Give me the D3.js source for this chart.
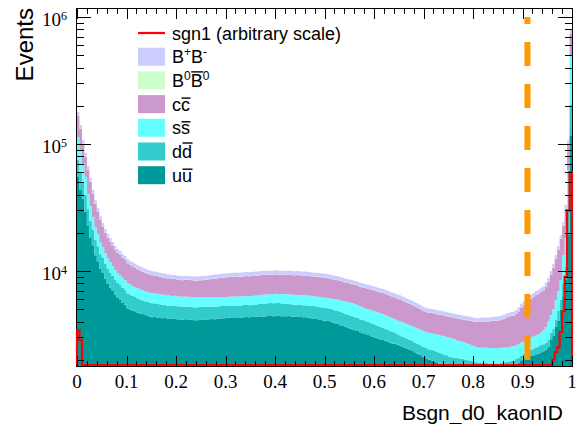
<!DOCTYPE html>
<html>
<head>
<meta charset="utf-8">
<script src="https://cdn.jsdelivr.net/npm/d3@7"></script>
<style>
  body { margin: 0; background: #fff; }
  svg { display: block; }
</style>
</head>
<body>
<svg id="chart" width="577" height="424"></svg>
<script>
// 200 bins from 0 to 1 (Bsgn_d0_kaonID), 20 values per line
var nBins = 200;

// stacked backgrounds, bottom to top
var uu = [55070, 43500, 37070, 29260, 22590, 18190, 15970, 13320, 11950, 10350, 9660, 8660, 7970, 7410, 6950, 6460, 6130, 5910, 5600, 5410,
  5080, 4970, 4890, 4810, 4720, 4630, 4580, 4500, 4430, 4370, 4320, 4350, 4290, 4260, 4240, 4270, 4220, 4190, 4180, 4210,
  4170, 4150, 4130, 4160, 4160, 4130, 4120, 4100, 4100, 4130, 4110, 4120, 4140, 4160, 4190, 4170, 4200, 4230, 4250, 4240,
  4260, 4290, 4270, 4300, 4320, 4300, 4300, 4330, 4350, 4330, 4340, 4360, 4370, 4390, 4400, 4370, 4410, 4430, 4420, 4400,
  4440, 4420, 4410, 4400, 4400, 4420, 4380, 4360, 4350, 4370, 4340, 4320, 4320, 4290, 4250, 4210, 4190, 4160, 4110, 4080,
  4060, 4030, 3960, 3910, 3860, 3820, 3740, 3690, 3630, 3580, 3510, 3460, 3410, 3370, 3290, 3240, 3190, 3140, 3080, 3030,
  2990, 2950, 2900, 2860, 2830, 2790, 2730, 2690, 2670, 2630, 2590, 2540, 2500, 2450, 2390, 2340, 2290, 2240, 2180, 2130,
  2090, 2050, 2000, 1970, 1940, 1910, 1860, 1820, 1800, 1770, 1710, 1680, 1660, 1630, 1590, 1560, 1540, 1510, 1470, 1440,
  1420, 1400, 1390, 1400, 1420, 1440, 1430, 1450, 1470, 1490, 1480, 1510, 1560, 1620, 1650, 1700, 1760, 1840, 1900, 1980,
  2080, 2130, 2120, 2140, 2170, 2210, 2240, 2290, 2330, 2400, 2520, 2860, 3080, 3630, 4050, 4930, 6250, 8510, 19300, 117400];

var dd = [19770, 15610, 13440, 10610, 8120, 6540, 5030, 4200, 3700, 3200, 3010, 2700, 2510, 2330, 2180, 2020, 1920, 1850, 1740, 1680,
  1590, 1550, 1470, 1440, 1380, 1350, 1310, 1290, 1270, 1290, 1250, 1230, 1230, 1210, 1170, 1160, 1140, 1150, 1110, 1100,
  1100, 1120, 1090, 1080, 1090, 1100, 1080, 1070, 1080, 1090, 1100, 1090, 1080, 1070, 1060, 1070, 1050, 1040, 1040, 1050,
  1040, 1030, 1040, 1050, 1030, 1045, 1050, 1060, 1055, 1045, 1060, 1075, 1080, 1095, 1110, 1135, 1140, 1155, 1165, 1175,
  1180, 1170, 1160, 1145, 1125, 1110, 1100, 1090, 1070, 1065, 1060, 1065, 1065, 1060, 1070, 1080, 1075, 1070, 1080, 1085,
  1080, 1070, 1070, 1055, 1035, 1020, 1010, 995, 970, 955, 945, 935, 910, 895, 880, 865, 845, 830, 825, 810,
  795, 775, 760, 735, 700, 670, 650, 620, 585, 550, 525, 505, 490, 480, 480, 470, 450, 440, 440, 425,
  415, 410, 410, 415, 410, 405, 405, 410, 405, 400, 405, 415, 420, 435, 455, 475, 480, 490, 510, 515,
  520, 510, 500, 490, 465, 450, 440, 425, 405, 390, 390, 380, 345, 310, 290, 260, 215, 190, 185, 180,
  150, 160, 205, 245, 280, 300, 310, 320, 320, 335, 345, 390, 410, 480, 800, 975, 1650, 2250, 10700, 85600];

var ss = [38260, 30230, 19380, 15290, 9570, 7710, 5580, 4650, 3860, 3340, 2760, 2470, 2110, 1960, 1810, 1690, 1600, 1540, 1470, 1420,
  1330, 1300, 1260, 1240, 1200, 1180, 1165, 1150, 1120, 1105, 1100, 1095, 1090, 1095, 1080, 1070, 1065, 1070, 1060, 1065,
  1050, 1040, 1035, 1045, 1030, 1035, 1020, 1010, 1005, 1015, 1000, 1005, 980, 970, 960, 965, 950, 945, 945, 940,
  940, 945, 945, 940, 950, 955, 955, 950, 960, 965, 965, 960, 960, 970, 980, 990, 985, 980, 990, 995,
  995, 990, 1005, 1020, 1020, 1030, 1045, 1060, 1065, 1070, 1080, 1085, 1075, 1060, 1060, 1050, 1040, 1030, 1030, 1020,
  1005, 1010, 1030, 1055, 1065, 1085, 1110, 1130, 1140, 1155, 1175, 1180, 1150, 1125, 1110, 1095, 1065, 1050, 1040, 1025,
  1005, 990, 985, 980, 960, 950, 940, 930, 910, 900, 895, 890, 880, 875, 870, 875, 855, 845, 845, 840,
  835, 830, 835, 840, 845, 840, 850, 855, 855, 850, 860, 850, 825, 790, 770, 740, 710, 680, 665, 640,
  610, 600, 600, 605, 600, 595, 595, 600, 595, 590, 590, 595, 590, 585, 580, 585, 575, 565, 565, 560,
  555, 550, 565, 590, 595, 600, 620, 665, 760, 880, 1110, 1250, 1530, 1800, 2120, 2580, 5470, 7450, 32200, 299500];

var cc = [53030, 41890, 30240, 23870, 22130, 17810, 13810, 11510, 9610, 8310, 6790, 6090, 5600, 5200, 4800, 4460, 4220, 4070, 3840, 3710,
  3520, 3400, 3260, 3150, 3010, 2930, 2860, 2790, 2710, 2650, 2590, 2540, 2510, 2450, 2430, 2380, 2350, 2310, 2290, 2260,
  2250, 2220, 2210, 2230, 2230, 2210, 2220, 2240, 2250, 2230, 2240, 2280, 2320, 2400, 2430, 2480, 2530, 2580, 2610, 2650,
  2670, 2690, 2710, 2740, 2730, 2710, 2720, 2740, 2750, 2770, 2760, 2780, 2790, 2770, 2800, 2820, 2790, 2780, 2780, 2800,
  2800, 2780, 2770, 2760, 2760, 2780, 2770, 2750, 2770, 2780, 2750, 2730, 2740, 2720, 2700, 2690, 2690, 2710, 2700, 2690,
  2700, 2660, 2630, 2580, 2560, 2520, 2470, 2420, 2390, 2350, 2310, 2290, 2290, 2270, 2250, 2220, 2230, 2240, 2230, 2210,
  2210, 2180, 2170, 2140, 2120, 2110, 2070, 2030, 2020, 1980, 1970, 1920, 1880, 1820, 1780, 1730, 1690, 1650, 1580, 1520,
  1470, 1440, 1440, 1440, 1430, 1410, 1420, 1440, 1400, 1390, 1380, 1380, 1380, 1390, 1390, 1400, 1410, 1420, 1430, 1440,
  1440, 1460, 1470, 1500, 1510, 1520, 1540, 1570, 1590, 1610, 1620, 1660, 1720, 1800, 1820, 1870, 1900, 1990, 2180, 2420,
  2600, 2760, 2900, 3050, 3200, 3360, 3420, 3580, 3650, 3900, 4230, 4800, 5540, 6520, 7680, 9360, 9190, 12520, 36500, 233100];

var b0b0 = [850, 670, 490, 390, 310, 250, 200, 170, 145, 126, 111, 100, 91, 85, 79, 73, 69, 67, 63, 61,
  58, 56, 55, 53, 52, 50, 49, 48, 47, 47, 46, 46, 45, 45, 44, 44, 44, 44, 43, 43,
  43, 43, 42, 42, 42, 42, 42, 42, 42, 42, 42, 42, 43, 43, 43, 43, 44, 44, 44, 44,
  45, 45, 45, 45, 45, 45, 45, 45, 46, 46, 46, 46, 46, 46, 46, 46, 47, 47, 47, 47,
  47, 47, 47, 47, 47, 47, 46, 46, 46, 46, 46, 46, 46, 46, 45, 45, 45, 45, 44, 44,
  44, 44, 43, 43, 42, 42, 41, 41, 40, 40, 39, 39, 38, 38, 37, 37, 36, 36, 36, 36,
  35, 35, 34, 34, 33, 33, 32, 32, 31, 31, 30, 30, 28, 28, 27, 27, 26, 26, 25, 25,
  24, 24, 23, 23, 23, 23, 23, 23, 22, 22, 22, 22, 21, 21, 21, 21, 21, 21, 20, 20,
  20, 20, 20, 20, 20, 20, 20, 20, 20, 20, 21, 21, 21, 21, 22, 22, 23, 23, 25, 25,
  27, 27, 30, 30, 32, 32, 34, 34, 36, 36, 41, 47, 53, 62, 74, 90, 100, 140, 600, 3700];

var bpbm = [11630, 9190, 6900, 5450, 4370, 3520, 2820, 2350, 2040, 1760, 1550, 1390, 1280, 1190, 1100, 1020, 970, 930, 890, 855,
  810, 785, 765, 740, 720, 700, 690, 680, 670, 655, 650, 645, 640, 630, 625, 620, 615, 610, 605, 600,
  600, 590, 595, 600, 590, 595, 585, 595, 590, 595, 590, 600, 595, 605, 600, 610, 615, 610, 620, 620,
  620, 630, 625, 630, 635, 630, 640, 630, 640, 635, 640, 640, 645, 645, 650, 645, 655, 650, 655, 660,
  660, 655, 660, 650, 655, 650, 650, 650, 645, 650, 645, 645, 645, 640, 640, 630, 630, 625, 625, 620,
  620, 615, 610, 600, 595, 590, 585, 575, 570, 560, 555, 550, 545, 535, 530, 520, 515, 505, 500, 495,
  490, 485, 478, 468, 462, 455, 448, 438, 432, 424, 418, 410, 402, 394, 386, 378, 370, 360, 352, 345,
  336, 330, 328, 326, 324, 320, 318, 312, 312, 308, 306, 302, 300, 298, 296, 292, 290, 288, 286, 282,
  280, 278, 278, 280, 280, 282, 282, 284, 284, 284, 286, 290, 294, 300, 303, 309, 312, 320, 335, 362,
  375, 395, 405, 423, 440, 450, 462, 478, 495, 520, 574, 651, 739, 870, 1024, 1249, 1700, 2320, 7500, 51450];

// signal, arbitrary scale
var sgn1 = [3430, 2860, 0, 0, 0, 0, 0, 0, 0, 0, 0, 0, 0, 0, 0, 0, 0, 0, 0, 0,
  0, 0, 0, 0, 0, 0, 0, 0, 0, 0, 0, 0, 0, 0, 0, 0, 0, 0, 0, 0,
  0, 0, 0, 0, 0, 0, 0, 0, 0, 0, 0, 0, 0, 0, 0, 0, 0, 0, 0, 0,
  0, 0, 0, 0, 0, 0, 0, 0, 0, 0, 0, 0, 0, 0, 0, 0, 0, 0, 0, 0,
  0, 0, 0, 0, 0, 0, 0, 0, 0, 0, 0, 0, 0, 0, 0, 0, 0, 0, 0, 0,
  0, 0, 0, 0, 0, 0, 0, 0, 0, 0, 0, 0, 0, 0, 0, 0, 0, 0, 0, 0,
  0, 0, 0, 0, 0, 0, 0, 0, 0, 0, 0, 0, 0, 0, 0, 0, 0, 0, 0, 0,
  0, 0, 0, 0, 0, 0, 0, 0, 0, 0, 0, 0, 0, 0, 0, 0, 0, 0, 0, 0,
  0, 0, 0, 0, 0, 0, 0, 0, 0, 0, 0, 0, 0, 0, 0, 0, 0, 0, 0, 0,
  0, 0, 0, 0, 0, 0, 0, 0, 0, 0, 0, 0, 2000, 2300, 2500, 3300, 4800, 9000, 30000, 60000];

var stackKeys = ["uu", "dd", "ss", "cc", "b0b0", "bpbm"];
var stackColors = {uu: "#009999", dd: "#33cccc", ss: "#66ffff", cc: "#cc99cc", b0b0: "#ccffcc", bpbm: "#ccccff"};

var xTicks = [0, 0.1, 0.2, 0.3, 0.4, 0.5, 0.6, 0.7, 0.8, 0.9, 1];
var xTickLabels = ["0", "0.1", "0.2", "0.3", "0.4", "0.5", "0.6", "0.7", "0.8", "0.9", "1"];
var yDecades = [4, 5, 6];
var cutValue = 0.91;

// legend rows: key, label pieces (sup = superscript, bar = overline)
var legendRows = [
  {key: "sgn1", label: [{t: "sgn1 (arbitrary scale)"}]},
  {key: "bpbm", label: [{t: "B"}, {t: "+", sup: 1}, {t: "B"}, {t: "-", sup: 1}]},
  {key: "b0b0", label: [{t: "B"}, {t: "0", sup: 1}, {t: "B", bar: 1}, {t: "0", sup: 1}]},
  {key: "cc", label: [{t: "c"}, {t: "c", bar: 1}]},
  {key: "ss", label: [{t: "s"}, {t: "s", bar: 1}]},
  {key: "dd", label: [{t: "d"}, {t: "d", bar: 1}]},
  {key: "uu", label: [{t: "u"}, {t: "u", bar: 1}]}
];

var svg = d3.select("#chart");
var sans = "'Liberation Sans', Arial, Helvetica, sans-serif";
var serif = "'Liberation Serif', 'Times New Roman', serif";

var x = d3.scaleLinear().domain([0, 1]).range([77, 572]);
var yMin = 1786;
var y = d3.scaleLog().domain([yMin, 1.156e6]).range([366, 9]).clamp(true);

// bin rows (low edge) + closing point at x=1
var rows = d3.range(nBins).map(function(i) {
  return {lo: i / nBins, uu: uu[i], dd: dd[i], ss: ss[i], cc: cc[i], b0b0: b0b0[i], bpbm: bpbm[i], sgn1: sgn1[i]};
});
var closing = Object.assign({}, rows[nBins - 1], {lo: 1});
var rowsClosed = rows.concat([closing]);

var layers = d3.stack().keys(stackKeys)(rowsClosed);

var area = d3.area()
  .curve(d3.curveStepAfter)
  .x(function(d) { return x(d.data.lo); })
  .y0(function(d) { return y(Math.max(d[0], yMin)); })
  .y1(function(d) { return y(Math.max(d[1], yMin)); });

svg.append("g").selectAll("path")
  .data(layers)
  .enter()
  .append("path")
  .attr("d", area)
  .attr("fill", function(d) { return stackColors[d.key]; })
  .attr("stroke", "none");

// frame
svg.append("rect")
  .attr("x", 76.5).attr("y", 8.5)
  .attr("width", 496).attr("height", 358)
  .attr("fill", "none").attr("stroke", "#000").attr("stroke-width", 1);

// signal line
var sigPts = [{lo: 0, v: 0}].concat(rowsClosed.map(function(d) { return {lo: d.lo, v: d.sgn1}; }), [{lo: 1, v: 0}]);
var sigLine = d3.line()
  .curve(d3.curveStepAfter)
  .x(function(d) { return x(d.lo); })
  .y(function(d) { return Math.min(y(Math.max(d.v, yMin)), 365); });
svg.append("path")
  .datum(sigPts)
  .attr("d", sigLine)
  .attr("fill", "none")
  .attr("stroke", "#ff0000")
  .attr("stroke-width", 2.2);

// cut line
svg.append("line")
  .attr("x1", x(cutValue)).attr("x2", x(cutValue))
  .attr("y1", y(1e6)).attr("y2", y(yMin))
  .attr("stroke", "#ff9900")
  .attr("stroke-width", 6)
  .attr("stroke-dasharray", "24,18")
  .attr("stroke-dashoffset", 17);

// ticks
var ticks = svg.append("g").attr("stroke", "#000").attr("stroke-width", 1);
var xMinor = d3.range(0, 51).map(function(i) { return i * 0.02; });
xMinor.forEach(function(v) {
  var major = Math.abs(v * 10 - Math.round(v * 10)) < 1e-6;
  var len = major ? 10 : 5;
  var px = Math.round(x(v)) + 0.5;
  ticks.append("line").attr("x1", px).attr("x2", px).attr("y1", 366).attr("y2", 366 - len);
  ticks.append("line").attr("x1", px).attr("x2", px).attr("y1", 9).attr("y2", 9 + len);
});
var yTickVals = [];
[3, 4, 5].forEach(function(d) {
  for (var k = 1; k <= 9; k++) {
    var v = k * Math.pow(10, d);
    if (v >= yMin && v <= 1.156e6) yTickVals.push({v: v, major: k === 1});
  }
});
yTickVals.push({v: 1e6, major: true});
yTickVals.forEach(function(t) {
  var len = t.major ? 14 : 7;
  var py = Math.round(y(t.v)) + 0.5;
  ticks.append("line").attr("x1", 77).attr("x2", 77 + len).attr("y1", py).attr("y2", py);
  ticks.append("line").attr("x1", 572).attr("x2", 572 - len).attr("y1", py).attr("y2", py);
});

// tick labels
svg.append("g").selectAll("text")
  .data(xTicks)
  .enter()
  .append("text")
  .attr("x", function(d) { return x(d); })
  .attr("y", 388)
  .attr("text-anchor", "middle")
  .attr("font-family", serif)
  .attr("font-size", 19)
  .text(function(d, i) { return xTickLabels[i]; });

yDecades.forEach(function(d) {
  var t = svg.append("text")
    .attr("x", 67)
    .attr("y", y(Math.pow(10, d)) + 9.5)
    .attr("text-anchor", "end")
    .attr("font-family", serif)
    .attr("font-size", 19);
  t.append("tspan").text("10");
  t.append("tspan").attr("dy", -6).attr("font-size", 12).text(d);
});

// axis titles
svg.append("text")
  .attr("x", 563).attr("y", 420)
  .attr("text-anchor", "end")
  .attr("font-family", sans)
  .attr("font-size", 21)
  .text("Bsgn_d0_kaonID");

svg.append("text")
  .attr("transform", "translate(33,8) rotate(-90)")
  .attr("text-anchor", "end")
  .attr("font-family", sans)
  .attr("font-size", 24)
  .text("Events");

// legend
var legend = svg.append("g");
var legendTop = 33, legendStep = 23.7, legendFont = 18;
legendRows.forEach(function(row, i) {
  var cy = legendTop + i * legendStep;
  if (row.key === "sgn1") {
    legend.append("line")
      .attr("x1", 138).attr("x2", 165)
      .attr("y1", cy).attr("y2", cy)
      .attr("stroke", "#ff0000").attr("stroke-width", 2.2);
  } else {
    legend.append("rect")
      .attr("x", 138).attr("y", cy - 9)
      .attr("width", 27).attr("height", 18)
      .attr("fill", stackColors[row.key]);
  }
  var base = cy + 6.5;
  var txt = legend.append("text")
    .attr("x", 172).attr("y", base)
    .attr("font-family", sans)
    .attr("font-size", legendFont);
  var cur = 0;
  row.label.forEach(function(seg) {
    var target = seg.sup ? -7 : 0;
    var ts = txt.append("tspan").text(seg.t);
    if (target !== cur) ts.attr("dy", target - cur);
    if (seg.sup) ts.attr("font-size", 12);
    cur = target;
  });
  // overlines
  var node = txt.node();
  var idx = 0;
  row.label.forEach(function(seg) {
    if (seg.bar) {
      var x0 = node.getStartPositionOfChar(idx).x;
      var x1 = node.getEndPositionOfChar(idx + seg.t.length - 1).x;
      var tall = /[A-Zbdfhklt]/.test(seg.t);
      var by = base - (tall ? 15 : 12.5);
      legend.append("line")
        .attr("x1", x0 + 0.5).attr("x2", x1 + 0.5)
        .attr("y1", by).attr("y2", by)
        .attr("stroke", "#000").attr("stroke-width", 1.4);
    }
    idx += seg.t.length;
  });
});
</script>
</body>
</html>
